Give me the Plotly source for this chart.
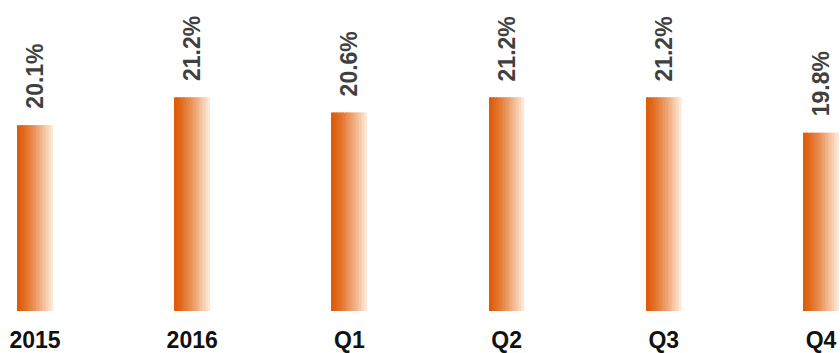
import plotly.graph_objects as go

categories = ["2015", "2016", "Q1", "Q2", "Q3", "Q4"]
values = [20.1, 21.2, 20.6, 21.2, 21.2, 19.8]
labels = ["20.1%", "21.2%", "20.6%", "21.2%", "21.2%", "19.8%"]

x_pos = list(range(len(categories)))
base_val = 12.75
bar_w = 0.222
n_slices = 24
c0 = (222, 92, 8)
c1 = (252, 232, 214)

fig = go.Figure()
for k in range(n_slices):
    t = k / (n_slices - 1)
    tt = t ** 1.3
    col = tuple(int(round(c0[j] + (c1[j] - c0[j]) * tt)) for j in range(3))
    w = bar_w / n_slices
    fig.add_trace(go.Bar(
        x=x_pos,
        y=[v - base_val for v in values],
        base=base_val,
        width=w * 1.08,
        offset=-bar_w / 2 + k * w,
        marker=dict(color="rgb(%d,%d,%d)" % col, line=dict(width=0)),
        showlegend=False,
        hoverinfo="skip",
    ))

for i, (v, lab) in enumerate(zip(values, labels)):
    fig.add_annotation(
        x=x_pos[i], y=v, text=lab, showarrow=False,
        textangle=-90, xanchor="center", yanchor="bottom", yshift=14,
        font=dict(family="Liberation Sans, Arial", size=23, color="#404040", weight="bold"),
    )

px_per_unit = 157.2
left = -35 / px_per_unit
right = left + 840 / px_per_unit
plot_h = 313
y_top = base_val + plot_h / 25.45

fig.update_layout(
    width=840, height=353,
    margin=dict(l=0, r=0, t=0, b=40),
    paper_bgcolor="white", plot_bgcolor="white",
    barmode="overlay",
    xaxis=dict(
        range=[left, right], tickvals=x_pos, ticktext=categories,
        showgrid=False, zeroline=False, showline=False, ticks="",
        ticklabelstandoff=13,
        tickfont=dict(family="Liberation Sans, Arial", size=23, color="#111111", weight="bold"),
        fixedrange=True,
    ),
    yaxis=dict(range=[base_val, y_top], visible=False, fixedrange=True),
)

fig.write_html("out.html")
